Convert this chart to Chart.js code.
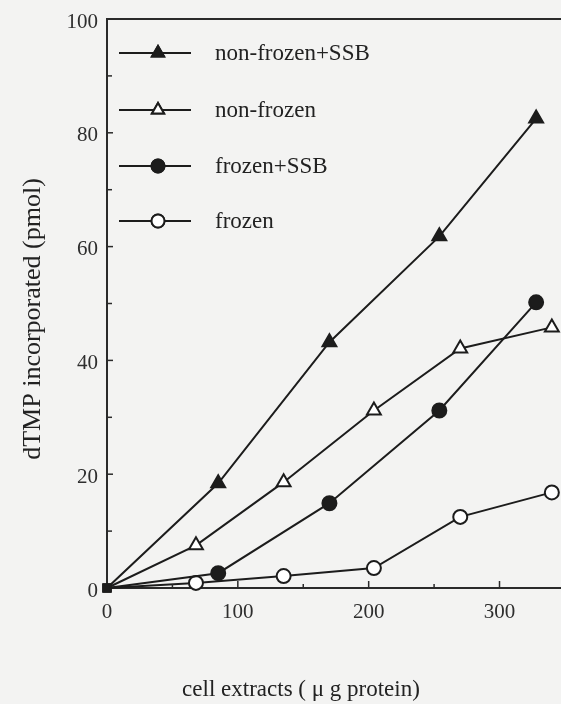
<!DOCTYPE html>
<html>
<head>
<meta charset="utf-8">
<script src="https://cdn.jsdelivr.net/npm/chart.js@4/dist/chart.umd.min.js"></script>
<style>
  html, body { margin: 0; padding: 0; background: #f3f3f2; }
  #wrap { width: 561px; height: 704px; }
</style>
</head>
<body>
<div id="wrap"><canvas id="plot" width="561" height="704"></canvas></div>
<script>
// x values (ug protein) for the two sets of measurements
const ssbDoses = [0, 85, 170, 254, 328];
const plainDoses = [0, 68, 135, 204, 270, 340];

// dTMP incorporated (pmol)
const nonFrozenSSB = [0, 18.4, 43.2, 61.8, 82.5];
const nonFrozen = [0, 7.5, 18.6, 31.2, 42.1, 45.8];
const frozenSSB = [0, 2.6, 14.9, 31.2, 50.2];
const frozen = [0, 0.9, 2.1, 3.5, 12.5, 16.8];

const seriesNames = ["non-frozen+SSB", "non-frozen", "frozen+SSB", "frozen"];
const xTicks = [0, 100, 200, 300];
const yTicks = [0, 20, 40, 60, 80, 100];

const ink = "#1c1c1c";
const paper = "#f3f3f2";
const serif = "'Liberation Serif', 'DejaVu Serif', serif";

function pts(xs, ys) {
    return xs.map((x, i) => ({ x: x, y: ys[i] }));
}

// origin point is drawn as a small black square in the original
function mk(style, filled, r) {
    return {
        pointStyle: c => c.dataIndex === 0 ? "rect" : style,
        pointRadius: c => c.dataIndex === 0 ? 5 : r,
        pointBackgroundColor: c => (c.dataIndex === 0 || filled) ? ink : "#ffffff",
        pointBorderColor: ink,
        pointBorderWidth: 2,
        borderColor: ink,
        borderWidth: 2,
        showLine: true,
        clip: false,
        fill: false,
        tension: 0
    };
}

const styles = [
    { style: "triangle", filled: true },
    { style: "triangle", filled: false },
    { style: "circle", filled: true },
    { style: "circle", filled: false }
];

const datasets = [
    Object.assign({ label: seriesNames[0], data: pts(ssbDoses, nonFrozenSSB) }, mk("triangle", true, 8)),
    Object.assign({ label: seriesNames[1], data: pts(plainDoses, nonFrozen) }, mk("triangle", false, 8)),
    Object.assign({ label: seriesNames[2], data: pts(ssbDoses, frozenSSB) }, mk("circle", true, 7)),
    Object.assign({ label: seriesNames[3], data: pts(plainDoses, frozen) }, mk("circle", false, 7))
];

// background, inward ticks, top frame line, legend and axis titles
const decor = {
    id: "decor",
    beforeDraw(chart) {
        const c = chart.ctx;
        c.save();
        c.fillStyle = paper;
        c.fillRect(0, 0, chart.width, chart.height);
        c.restore();
    },
    afterDatasetsDraw(chart) {
        const c = chart.ctx;
        const a = chart.chartArea;
        const sx = chart.scales.x, sy = chart.scales.y;
        c.save();
        c.strokeStyle = "#2a2a2a";
        c.lineWidth = 2;
        // top frame
        c.beginPath();
        c.moveTo(a.left - 1, a.top);
        c.lineTo(chart.width, a.top);
        c.stroke();
        // y ticks every 10, pointing inwards
        c.lineWidth = 1.5;
        for (let v = 10; v < 100; v += 10) {
            const py = sy.getPixelForValue(v);
            const len = v % 20 === 0 ? 6 : 5;
            c.beginPath();
            c.moveTo(a.left, py);
            c.lineTo(a.left + len, py);
            c.stroke();
        }
        for (let v = 50; v <= 300; v += 50) {
            const px = sx.getPixelForValue(v);
            const len = v % 100 === 0 ? 7 : 4;
            c.beginPath();
            c.moveTo(px, a.bottom);
            c.lineTo(px, a.bottom - len);
            c.stroke();
        }

        // legend
        const rows = [53, 110, 166, 221];
        c.font = "23px " + serif;
        c.textBaseline = "middle";
        c.textAlign = "left";
        rows.forEach((ry, i) => {
            const s = styles[i];
            c.strokeStyle = ink;
            c.lineWidth = 2;
            c.beginPath();
            c.moveTo(119, ry);
            c.lineTo(191, ry);
            c.stroke();
            Chart.helpers.drawPoint(c, {
                pointStyle: s.style,
                radius: s.style === "triangle" ? 7 : 6.5,
                borderWidth: 2,
                rotation: 0
            }, 158, ry);
            c.fillStyle = s.filled ? ink : "#ffffff";
            c.fill();
            c.stroke();
            c.fillStyle = "#222";
            c.fillText(seriesNames[i], 215, ry + 1);
        });

        // axis titles
        c.fillStyle = "#222";
        c.font = "23px " + serif;
        c.textAlign = "center";
        c.fillText("cell extracts ( \u03bc g protein)", 301, 690);
        c.font = "26px " + serif;
        c.translate(33, 319);
        c.rotate(-Math.PI / 2);
        c.fillText("dTMP incorporated (pmol)", 0, 0);
        c.restore();
    }
};

const ctx = document.getElementById("plot").getContext("2d");
const chart = new Chart(ctx, {
    type: "scatter",
    data: { datasets: datasets },
    options: {
        responsive: false,
        animation: false,
        layout: { autoPadding: false, padding: { top: 19, right: 0, left: 0, bottom: 0 } },
        plugins: { legend: { display: false }, tooltip: { enabled: false } },
        scales: {
            x: {
                type: "linear",
                min: 0,
                max: 347,
                afterFit: s => { s.height = 116; s.paddingLeft = 0; s.paddingRight = 0; },
                afterBuildTicks: s => { s.ticks = xTicks.map(v => ({ value: v })); },
                grid: { drawOnChartArea: false, drawTicks: false },
                border: { display: true, color: "#2a2a2a", width: 2 },
                ticks: {
                    color: "#2e2e2e",
                    font: { family: serif, size: 21 },
                    padding: 12,
                    maxRotation: 0
                }
            },
            y: {
                type: "linear",
                min: 0,
                max: 100,
                afterFit: s => { s.width = 107; s.paddingTop = 0; s.paddingBottom = 0; },
                afterBuildTicks: s => { s.ticks = yTicks.map(v => ({ value: v })); },
                grid: { drawOnChartArea: false, drawTicks: false },
                border: { display: true, color: "#2a2a2a", width: 2 },
                ticks: {
                    color: "#2e2e2e",
                    font: { family: serif, size: 21 },
                    padding: 9,
                    labelOffset: 3
                }
            }
        }
    },
    plugins: [decor]
});
</script>
</body>
</html>
